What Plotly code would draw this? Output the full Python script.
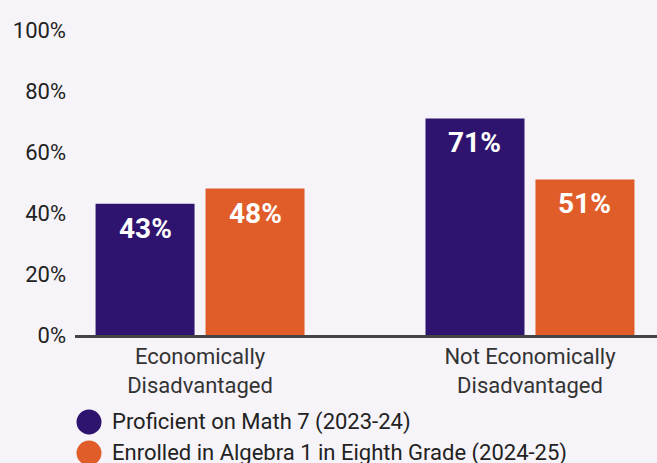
import plotly.graph_objects as go

categories = ["Economically<br>Disadvantaged", "Not Economically<br>Disadvantaged"]
series_names = ["Proficient on Math 7 (2023-24)", "Enrolled in Algebra 1 in Eighth Grade (2024-25)"]
proficient = [43, 71]
enrolled = [48, 51]
colors = ["#2E146E", "#E05D2A"]
ytick_vals = [0, 20, 40, 60, 80, 100]
ytick_text = ["0%", "20%", "40%", "60%", "80%", "100%"]

FONT = "Roboto"
TOP, BOTTOM_PX = 30, 335
PLOT_H = BOTTOM_PX - TOP

fig = go.Figure()
offsets = [-0.5, 0.5]
for name, vals, col in zip(series_names, [proficient, enrolled], colors):
    fig.add_trace(go.Bar(
        x=categories, y=vals, name=name, marker=dict(color=col, line=dict(width=0)),
        showlegend=False, hoverinfo="skip",
    ))

# value labels inside bar tops
for vals, off in zip([proficient, enrolled], offsets):
    for i, v in enumerate(vals):
        fig.add_annotation(
            x=i + off * 0.3333, y=v, xref="x", yref="y", text=f"{v}%", showarrow=False,
            yanchor="top", yshift=-6,
            font=dict(family=FONT, size=28, color="white", weight="bold"),
        )

# manual legend (paper coords: plot area 75..657 x TOP..335 px)
def px_x(px):
    return (px - 75) / 582

def px_y(py):
    return (BOTTOM_PX - py) / PLOT_H

legend_rows = [422, 453]
for name, col, row in zip(series_names, colors, legend_rows):
    fig.add_shape(type="circle", xref="paper", yref="paper", xsizemode="pixel", ysizemode="pixel",
                  xanchor=px_x(89), yanchor=px_y(row), x0=-12.5, x1=12.5, y0=-12.5, y1=12.5,
                  fillcolor=col, line=dict(width=0))
    fig.add_annotation(x=px_x(110), y=px_y(row), xref="paper", yref="paper", text=name,
                       showarrow=False, xanchor="left", yanchor="middle",
                       font=dict(family=FONT, size=22, color="#222222"))

fig.update_layout(
    width=657, height=463,
    margin=dict(l=75, r=0, t=TOP, b=463 - BOTTOM_PX, autoexpand=False),
    paper_bgcolor="#F6F4F9", plot_bgcolor="#F6F4F9",
    barmode="group", bargap=0.3333, bargroupgap=0.1,
    font=dict(family=FONT, size=22, color="#222222"),
    showlegend=False,
)
fig.update_xaxes(range=[-0.379, 1.385], showline=True, linecolor="#444444", linewidth=3,
                 showgrid=False, ticks="", ticklabelstandoff=0,
                 tickfont=dict(family=FONT, size=22, color="#333333"))
fig.update_yaxes(range=[0, 100], tickvals=ytick_vals, ticktext=ytick_text, showgrid=False,
                 zeroline=False, showline=False, ticks="", ticklabelstandoff=8,
                 tickfont=dict(family=FONT, size=22, color="#222222"))

fig.write_html("out.html")
